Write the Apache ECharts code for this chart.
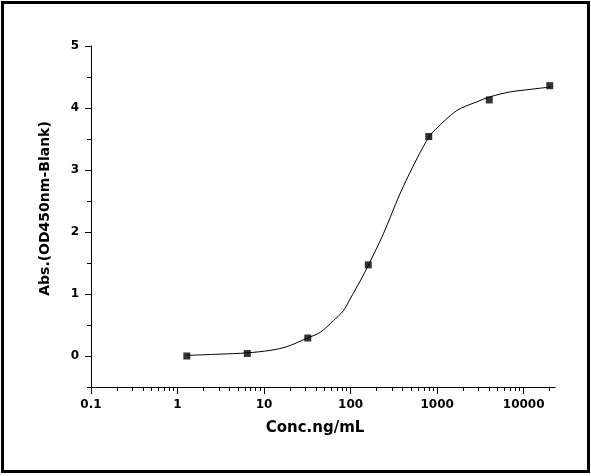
<!DOCTYPE html>
<html>
<head>
<meta charset="utf-8">
<script src="https://cdn.jsdelivr.net/npm/echarts@6/dist/echarts.min.js"></script>
<style>
  html, body { margin: 0; padding: 0; background: #fff; }
  #chart { width: 591px; height: 476px; }
</style>
</head>
<body>
<div id="chart"></div>
<script>
// measured standards
var concentrations = [1.28, 6.4, 32, 160, 800, 4000, 20000];
var absorbance = [0.0, 0.04, 0.29, 1.47, 3.54, 4.13, 4.36];

// fitted curve
var fitConc = [1.28, 3.1, 6.3, 11.7, 18.3, 31.7, 44.4, 63.2, 82.5, 98.7, 129, 161, 239, 373, 582, 809, 949, 1690, 2880, 4065, 6980, 11900, 20400];
var fitAbs = [0.01, 0.03, 0.05, 0.09, 0.15, 0.29, 0.38, 0.57, 0.73, 0.92, 1.21, 1.47, 1.97, 2.62, 3.18, 3.54, 3.65, 3.96, 4.10, 4.18, 4.26, 4.30, 4.34];

// tick labels
var xMajorTicks = [0.1, 1, 10, 100, 1000, 10000];
var xMinorSteps = [2, 3, 4, 5, 6, 7, 8, 9];
var yMajorTicks = [0, 1, 2, 3, 4, 5];
var yMinorTicks = [-0.5, 0.5, 1.5, 2.5, 3.5, 4.5];

var xMinorTicks = [];
xMajorTicks.forEach(function (d) {
  xMinorSteps.forEach(function (k) {
    var v = +(d * k).toPrecision(3);
    if (v < 23000) xMinorTicks.push(v);
  });
});

var font = "'DejaVu Sans', Verdana, sans-serif";
var black = "#000";

var chart = echarts.init(document.getElementById("chart"), null, { renderer: "canvas" });

chart.setOption({
  animation: false,
  backgroundColor: "#fff",
  grid: { left: 91, right: 36, top: 46, bottom: 89 },
  xAxis: [
    {
      type: "log",
      logBase: 10,
      min: 0.1,
      max: 23000,
      position: "bottom",
      name: "Conc.ng/mL",
      nameLocation: "middle",
      nameGap: 34,
      nameTextStyle: { color: black, fontFamily: font, fontWeight: "bold", fontSize: 15, padding: [0, 16, 0, 0] },
      axisLine: { onZero: false, lineStyle: { color: black, width: 1 } },
      axisTick: { customValues: xMajorTicks, length: 7, inside: false, lineStyle: { color: black } },
      axisLabel: {
        customValues: xMajorTicks,
        margin: 12,
        color: black,
        fontFamily: font,
        fontWeight: "bold",
        fontSize: 12,
        formatter: function (v) {
          return v < 1 ? v.toFixed(1) : String(Math.round(v));
        },
      },
      splitLine: { show: false },
    },
    {
      type: "log",
      logBase: 10,
      min: 0.1,
      max: 23000,
      position: "bottom",
      axisLine: { show: false, onZero: false },
      axisTick: { customValues: xMinorTicks, length: 4, lineStyle: { color: black } },
      axisLabel: { show: false },
      splitLine: { show: false },
    },
  ],
  yAxis: [
    {
      type: "value",
      min: -0.5,
      max: 5,
      position: "left",
      name: "Abs.(OD450nm-Blank)",
      nameLocation: "middle",
      nameGap: 39,
      nameTextStyle: { color: black, fontFamily: font, fontWeight: "bold", fontSize: 14, padding: [0, 0, 0, 16] },
      axisLine: { show: true, onZero: false, lineStyle: { color: black, width: 1 } },
      axisTick: { show: true, customValues: yMajorTicks, length: 6, lineStyle: { color: black } },
      axisLabel: {
        customValues: yMajorTicks,
        margin: 12,
        color: black,
        fontFamily: font,
        fontWeight: "bold",
        fontSize: 12,
      },
      splitLine: { show: false },
    },
    {
      type: "value",
      min: -0.5,
      max: 5,
      position: "left",
      axisLine: { show: false, onZero: false },
      axisTick: { show: true, customValues: yMinorTicks, length: 4, lineStyle: { color: black } },
      axisLabel: { show: false },
      splitLine: { show: false },
    },
  ],
  graphic: [
    {
      type: "rect",
      shape: { x: 2.5, y: 2.5, width: 586, height: 469 },
      style: { fill: null, stroke: black, lineWidth: 3 },
      silent: true,
    },
  ],
  series: [
    {
      name: "fit",
      type: "line",
      xAxisIndex: 0,
      yAxisIndex: 0,
      data: fitConc.map(function (c, i) { return [c, fitAbs[i]]; }),
      smooth: 0.3,
      showSymbol: false,
      lineStyle: { color: black, width: 1 },
      z: 2,
    },
    {
      name: "standards",
      type: "scatter",
      xAxisIndex: 0,
      yAxisIndex: 0,
      data: concentrations.map(function (c, i) { return [c, absorbance[i]]; }),
      symbol: "rect",
      symbolSize: 7,
      itemStyle: { color: black },
      z: 3,
    },
  ],
});
</script>
</body>
</html>
